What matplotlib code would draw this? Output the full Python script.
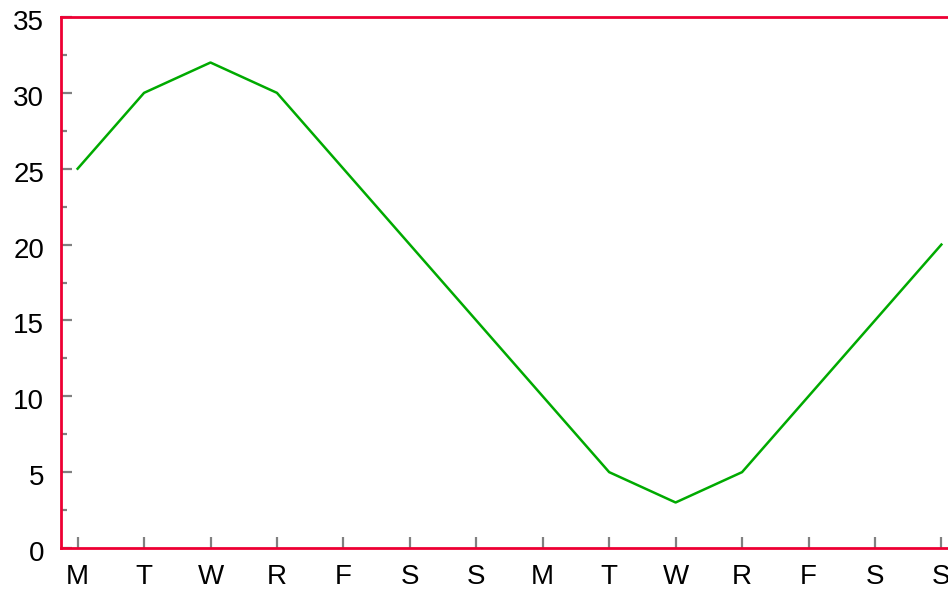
import matplotlib
matplotlib.use('Agg')
import matplotlib.pyplot as plt
import matplotlib.transforms as mtransforms
import numpy as np

days = ['M', 'T', 'W', 'R', 'F', 'S', 'S', 'M', 'T', 'W', 'R', 'F', 'S', 'S']
values = [25, 30, 32, 30, 25, 20, 15, 10, 5, 3, 5, 10, 15, 20]

plt.rcParams['font.family'] = ['Liberation Sans', 'DejaVu Sans']

fig = plt.figure(figsize=(9.48, 5.89), dpi=100)
W, H = 948, 589
ax = fig.add_axes([61 / W, (H - 548) / H, (958 - 61) / W, 531 / H])

x = np.arange(len(days))
ax.plot(x, values, color='#00aa00', linewidth=1.8)

ax.set_xlim(-0.25, len(days) - 0.75)
ax.set_ylim(0, 35)

ax.set_xticks(x)
ax.set_xticklabels(days)
ax.set_yticks(np.arange(0, 36, 5))
ax.set_yticks(np.arange(2.5, 35, 5), minor=True)

for side in ['left', 'bottom', 'top', 'right']:
    ax.spines[side].set_color('#ee0033')
    ax.spines[side].set_linewidth(2)

ax.tick_params(axis='both', which='both', direction='in', color='#808080',
               width=1.6, labelsize=20, labelcolor='black')
ax.tick_params(axis='y', which='major', length=8, pad=12)
ax.tick_params(axis='y', which='minor', length=4)
ax.tick_params(axis='x', which='major', length=8, pad=11.5)

offset = mtransforms.ScaledTranslation(0, -3 / 100, fig.dpi_scale_trans)
for lab in ax.get_yticklabels():
    lab.set_transform(lab.get_transform() + offset)

fig.savefig('out.png', dpi=100)
